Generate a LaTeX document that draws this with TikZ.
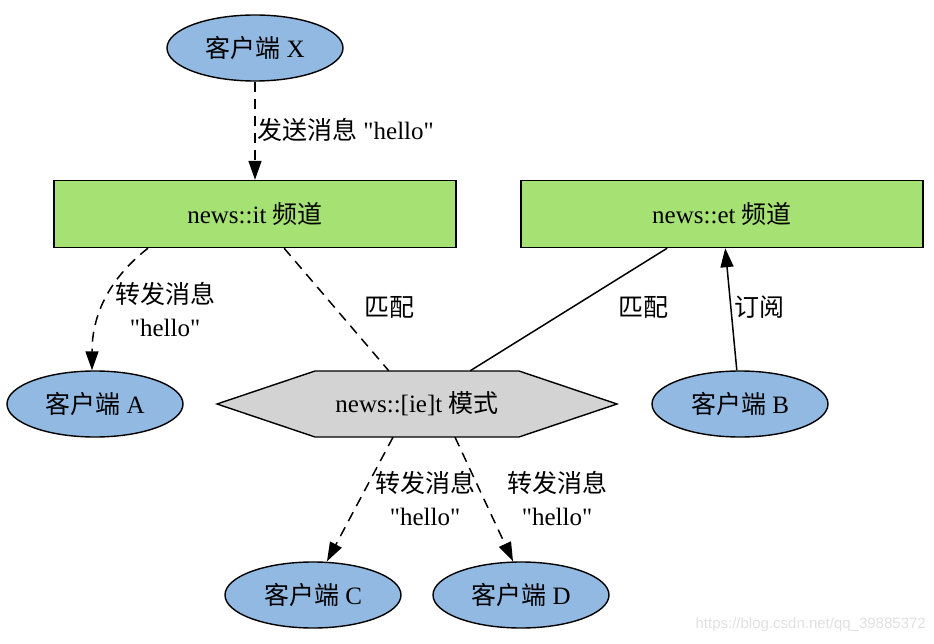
\documentclass[tikz,border=0pt]{standalone}
\usepackage{fontspec}
\setmainfont{Liberation Serif}
\newfontfamily\cjk{Noto Sans CJK SC}
\newfontfamily\wmfont{Liberation Sans}
\usepackage{tikz}
\usetikzlibrary{shapes,arrows.meta}
\definecolor{clientblue}{RGB}{146,185,226}
\definecolor{chgreen}{RGB}{166,226,115}
\definecolor{patgray}{RGB}{211,211,211}
\tikzstyle{client}=[ellipse,draw,fill=clientblue,line width=1.4pt,minimum width=176pt,minimum height=66pt,inner sep=0pt]
\tikzstyle{channel}=[rectangle,draw,fill=chgreen,line width=1.4pt,minimum width=402pt,minimum height=67pt,inner sep=0pt]
\tikzstyle{patnode}=[rectangle,minimum width=204pt,minimum height=66pt,inner sep=0pt]
\tikzstyle{lbl}=[align=center,inner sep=0pt]
\tikzstyle{link}=[line width=1.5pt]
\tikzstyle{fwd}=[link,dash pattern=on 10pt off 7pt,-{Triangle[length=19pt,width=13pt]}]
\newcommand{\zh}[1]{{\cjk #1}}
\newcommand{\hello}{\textquotedbl hello\textquotedbl}

\begin{document}
\begin{tikzpicture}[x=1pt,y=-1pt,font=\fontsize{25}{33}\selectfont]
    \useasboundingbox (0,0) rectangle (934,644);

    \node[client] (X) at (255,48) {\zh{客户端} X};
    \node[channel] (it) at (255,214) {news::it \zh{频道}};
    \node[channel] (et) at (722,214) {news::et \zh{频道}};
    \node[client] (A) at (95,404) {\zh{客户端} A};
    \node[client] (B) at (740,404) {\zh{客户端} B};
    \node[client] (C) at (313,595) {\zh{客户端} C};
    \node[client] (D) at (521,595) {\zh{客户端} D};

    % pattern node: hexagon drawn round it
    \filldraw[fill=patgray,line width=1.4pt] (315,371) -- (519,371) -- (617,404) -- (519,437) -- (315,437) -- (217,404) -- cycle;
    \node[patnode] (hex) at (417,404) {news::[ie]t \zh{模式}};

    \draw[fwd] (X) -- (it);
    \node[lbl,anchor=west] (lX) at (257,130) {\zh{发送消息} \hello};

    \draw[fwd] ([xshift=-107pt]it.south) to[out=-142,in=90] ([xshift=-3pt]A.north);
    \node[lbl] (lA) at (165,309) {\zh{转发消息}\\\hello};

    \draw[link,dash pattern=on 10pt off 7pt] (it) -- (hex);
    \node[lbl] (m1) at (389,307) {\zh{匹配}};

    \draw[link] (et) -- (hex);
    \node[lbl] (m2) at (643,307) {\zh{匹配}};

    \draw[link,-{Triangle[length=19pt,width=13pt]}] (B) -- (et);
    \node[lbl] (sub) at (759,307) {\zh{订阅}};

    \draw[fwd] ([xshift=-24pt]hex.south) -- ([xshift=14pt]C.north);
    \node[lbl] (lC) at (425,498) {\zh{转发消息}\\\hello};

    \draw[fwd] ([xshift=38pt]hex.south) -- ([xshift=-8pt]D.north);
    \node[lbl] (lD) at (557,498) {\zh{转发消息}\\\hello};

    \node[anchor=east,inner sep=0pt,text=black!12,font=\wmfont\fontsize{15}{18}\selectfont] (wm) at (926,625) {https://blog.csdn.net/qq\_39885372};
\end{tikzpicture}
\end{document}
